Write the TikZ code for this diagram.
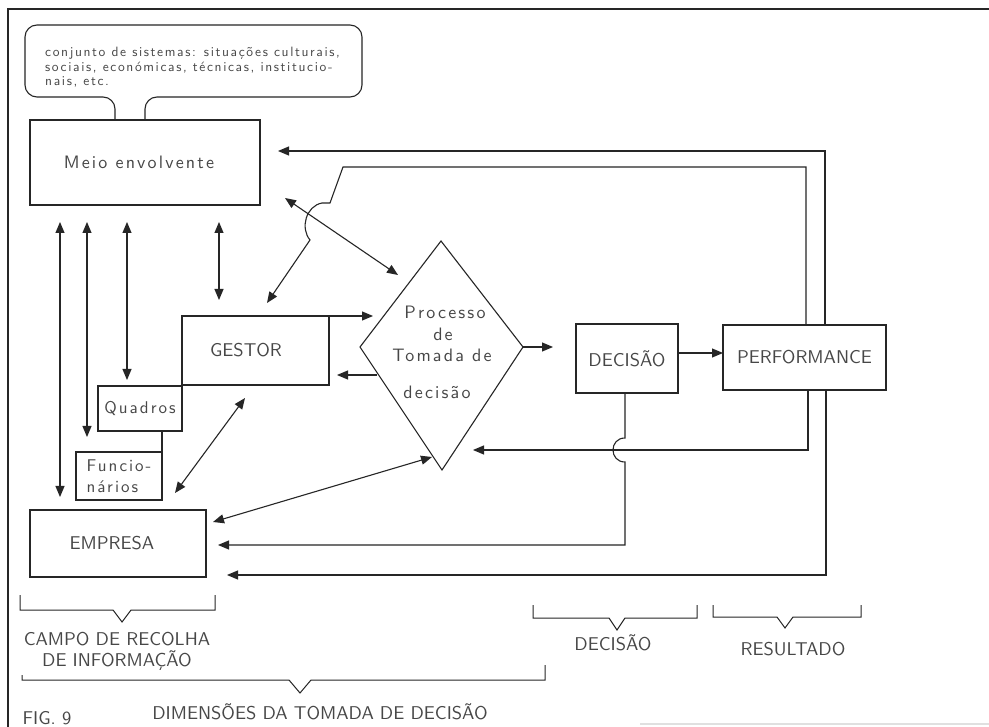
\documentclass[tikz,border=0pt]{standalone}
\usepackage{fontspec}
\newfontfamily\cad{lmsans10-regular.otf}
\newfontfamily\cadwide{lmsans10-regular.otf}[LetterSpace=12]
\usetikzlibrary{arrows.meta,calc}
\definecolor{ink}{gray}{0.15}
\definecolor{txt}{gray}{0.28}
\begin{document}
\begin{tikzpicture}[x=1pt,y=-1pt,
  ln/.style={line width=1.1pt, draw=ink, line join=miter},
  box/.style={ln, rectangle, inner sep=0pt, outer sep=0pt, text=txt},
  caps/.style={font=\cad\fontsize{18.5}{20}\selectfont, text=txt},
  lower/.style={font=\cadwide\fontsize{18}{20}\selectfont, text=txt},
  small/.style={font=\cadwide\fontsize{17}{21}\selectfont, text=txt},
  lbl/.style={caps, inner sep=0pt},
  tip/.style={Triangle[length=11pt,width=9pt]},
  arr/.style={ln, -{Triangle[length=11pt,width=9pt]}},
  dbl/.style={ln, {Triangle[length=11pt,width=9pt]}-{Triangle[length=11pt,width=9pt]}},
  brace/.style={ln, line width=1pt},
]
\fill[white] (0,0) rectangle (989,727);
\useasboundingbox (0,0) rectangle (989,727);

% sheet frame
\draw[ln] (8,727) -- (8,9) -- (989,9);
\draw[black!12, line width=1.5pt] (640,724) -- (989,724);

% speech bubble above the environment box
\draw[ln, rounded corners=12pt] (115,120) -- (115,97) -- (25,97) -- (25,25) -- (362,25) -- (362,97) -- (145,97) -- (145,120);
\node[anchor=north west, align=left, inner sep=0pt, text=txt,
      font=\cadwide\fontsize{13.5}{14.5}\selectfont] (bubtxt) at (45,47)
  {conjunto de sistemas: situações culturais,\\
   sociais, económicas, técnicas, institucio-\\
   nais, etc.};

% boxes
\node[box, lower, minimum width=230pt, minimum height=85pt] (meio) at (145,162.5) {\hspace*{-12pt}Meio envolvente};
\node[box, caps, minimum width=147pt, minimum height=69pt] (gestor) at (255.5,350.5) {\hspace*{-19pt}GESTOR};
\node[box, small, minimum width=84pt, minimum height=45pt] (quadros) at (140,408.5) {Quadros};
\node[box, small, minimum width=86pt, minimum height=48pt, align=left] (func) at (119,476) {Funcio-\\nários};
\node[box, caps, minimum width=176pt, minimum height=67pt] (empresa) at (118,543.5) {\hspace*{-12pt}EMPRESA};
\node[box, caps, minimum width=102pt, minimum height=69pt] (decisao) at (627,358.5) {DECISÃO};
\node[box, caps, minimum width=163pt, minimum height=65pt] (perf) at (804.5,357.5) {PERFORMANCE};

% decision process diamond
\coordinate (dT) at (441,241);
\coordinate (dR) at (523,347);
\coordinate (dB) at (442,470);
\coordinate (dL) at (360,347);
\draw[ln] (dT) -- (dR) -- (dB) -- (dL) -- cycle;
\node[lower] (p1) at (445,312) {Processo};
\node[lower] (p2) at (443,334) {de};
\node[lower] (p3) at (442,355) {Tomada de};
\node[lower] (p4) at (437,392) {decisão};

% Quadros / Funcionários link
\draw[ln] (func.north east) -- (func.north east |- quadros.south);

% exchanges with the environment
\draw[dbl, shorten <=17pt, shorten >=13pt] ([xshift=30pt]meio.south west) -- ([xshift=30pt]empresa.north west);
\draw[dbl, shorten <=17pt, shorten >=15pt] ([xshift=57pt]meio.south west) -- ([xshift=11pt]func.north west);
\draw[dbl, shorten <=17pt, shorten >=6pt] ([xshift=97pt]meio.south west) -- ([xshift=29pt]quadros.north west);
\draw[dbl, shorten <=17pt, shorten >=16pt] ([xshift=189pt]meio.south west) -- ([xshift=37pt]gestor.north west);

% feedback loops from PERFORMANCE
\coordinate (fbA) at (825,151);
\draw[arr, shorten >=18pt] (perf.north -| fbA) -- (fbA) -- (fbA -| meio.east);

\coordinate (fbB) at (806,167);
\coordinate (kA) at (343,167);
\coordinate (kB) at (330,203);
\coordinate (kC) at (310,240);
\coordinate (gTip) at (267,303);
\draw[arr] (perf.north -| fbB) -- (fbB) -- (kA) -- (kB) -- ++(-8,0)
  .. controls (306,206) and (300,228) .. (kC) -- (gTip);

\coordinate (fbC) at (808,450);
\coordinate (pC) at (473,450);
\draw[arr] (perf.south -| fbC) -- (fbC) -- (pC);

\coordinate (fbD) at (826,575);
\draw[arr, shorten >=21pt] (perf.south -| fbD) -- (fbD) -- (fbD -| empresa.east);

% decision back to the company, hopping over the loop line
\coordinate (fbE) at (625,545);
\draw[arr, shorten >=12pt] (decisao.south -| fbE) -- (625,438)
  .. controls (609,438) and (609,462) .. (625,462) -- (fbE) -- (fbE -| empresa.east);

% process links
\coordinate (mA) at (285,198);
\coordinate (pA) at (398,275);
\draw[dbl] (mA) -- (pA);
\draw[arr] (gestor.north east) -- ++(44,0);
\coordinate (pG) at (377,375);
\draw[arr, shorten >=8pt] (pG) -- (pG -| gestor.east);
\draw[arr, shorten >=23pt] (dR) -- (dR -| decisao.west);
\coordinate (dp) at (678,353);
\draw[arr] (dp -| decisao.east) -- (dp -| perf.west);
\coordinate (eA) at (213,522);
\coordinate (pB) at (432,457);
\draw[dbl] (eA) -- (pB);
\coordinate (gB) at (245,398);
\coordinate (fA) at (175,493);
\draw[dbl] (gB) -- (fA);

% dimension braces
\draw[brace] (20,595) -- (20,610) -- (113,610) -- (122,622) -- (131,610) -- (215,610) -- (215,595);
\draw[brace] (533,605) -- (533,618) -- (609,618) -- (617,630) -- (625,618) -- (697,618) -- (697,605);
\draw[brace] (713,605) -- (713,617) -- (777,617) -- (785,628) -- (793,617) -- (861,617) -- (861,605);
\draw[brace] (22,675) -- (22,680) -- (289,680) -- (300,693) -- (311,680) -- (545,680) -- (545,665);

\node[lbl, align=center] (campo) at (117,651) {CAMPO DE RECOLHA\\[1pt]DE INFORMAÇÃO};
\node[lbl] (ldec) at (613,643) {DECISÃO};
\node[lbl] (lres) at (793,649) {RESULTADO};
\node[lbl] (ldim) at (320,712) {DIMENSÕES DA TOMADA DE DECISÃO};
\node[lbl] (fig) at (47,718) {FIG. 9};
\end{tikzpicture}
\end{document}
